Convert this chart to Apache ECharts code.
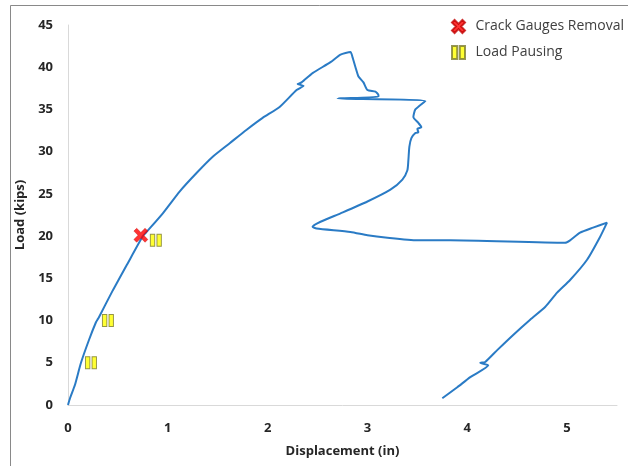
<!DOCTYPE html>
<html>
<head>
<meta charset="utf-8">
<script src="https://cdn.jsdelivr.net/npm/echarts@6/dist/echarts.min.js"></script>
<style>
html,body{margin:0;padding:0;background:#fff;}
#chart{width:628px;height:466px;}
</style>
</head>
<body>
<div id="chart"></div>
<script>
// Load–displacement curve (in, kips)
const displacement = [0, 0.02, 0.07, 0.13, 0.21, 0.28, 0.30, 0.31, 0.45, 0.59, 0.75, 0.78, 0.95, 1.12, 1.29, 1.45, 1.62, 1.79, 1.95, 2.12, 2.29, 2.36, 2.30, 2.34, 2.45, 2.63, 2.73, 2.83, 2.85, 2.88, 2.91, 2.96, 3.00, 3.08, 3.11, 3.11, 2.70, 3.58, 3.48, 3.46, 3.51, 3.54, 3.50, 3.51, 3.48, 3.44, 3.42, 3.41, 3.40, 3.35, 3.23, 3.00, 2.73, 2.53, 2.45, 2.49, 2.83, 3.00, 3.20, 3.50, 3.83, 4.98, 5.03, 5.13, 5.26, 5.40, 5.33, 5.20, 5.03, 4.90, 4.78, 4.63, 4.46, 4.30, 4.18, 4.13, 4.21, 4.03, 3.90, 3.75];
const load = [0, 0.8, 2.4, 5.0, 7.7, 9.8, 10.2, 10.4, 13.6, 16.6, 20.0, 20.4, 22.7, 25.3, 27.5, 29.4, 31.0, 32.6, 34.0, 35.3, 37.3, 37.8, 38.0, 38.2, 39.3, 40.6, 41.5, 41.8, 41.2, 40.0, 38.9, 38.2, 37.3, 37.1, 36.7, 36.5, 36.3, 36.0, 35.0, 34.1, 33.4, 32.9, 32.7, 32.3, 32.2, 31.6, 30.6, 29.0, 27.8, 26.7, 25.5, 24.1, 22.7, 21.7, 21.1, 20.9, 20.5, 20.1, 19.8, 19.5, 19.5, 19.2, 19.5, 20.4, 21.0, 21.6, 19.9, 17.2, 14.8, 13.3, 11.6, 10.1, 8.3, 6.5, 5.1, 5.0, 4.7, 3.3, 2.1, 0.8];

const crackDisp = [0.73];
const crackLoad = [20.1];
const pauseDisp = [0.23, 0.40, 0.88];
const pauseLoad = [5.0, 10.0, 19.5];

const xTicks = [0, 1, 2, 3, 4, 5];
const yTicks = [0, 5, 10, 15, 20, 25, 30, 35, 40, 45];

const curve = displacement.map((d, i) => [d, load[i]]);
const crack = crackDisp.map((d, i) => [d, crackLoad[i]]);
const pause = pauseDisp.map((d, i) => [d, pauseLoad[i]]);

const FONT = '"Open Sans", "Noto Sans", sans-serif';
const crossPath = 'path://M2,0 L5,3 L8,0 L10,2 L7,5 L10,8 L8,10 L5,7 L2,10 L0,8 L3,5 L0,2 Z';
const pausePath = 'path://M0,0 L4,0 L4,10 L0,10 Z M6,0 L10,0 L10,10 L6,10 Z';

const chart = echarts.init(document.getElementById('chart'), null, {renderer: 'canvas'});
chart.setOption({
  animation: false,
  backgroundColor: '#fff',
  graphic: [{
    type: 'rect', shape: {x: 10.5, y: 5.5, width: 700, height: 600},
    style: {fill: 'none', stroke: '#898989', lineWidth: 1}, silent: true, z: -1
  }],
  grid: {left: 68, right: 11, top: 25, bottom: 61, containLabel: false},
  legend: {
    data: ['Crack Gauges Removal', 'Load Pausing'],
    orient: 'vertical', left: 446, top: 14, itemGap: 11,
    itemWidth: 14, itemHeight: 13,
    textStyle: {fontFamily: FONT, fontSize: 14, color: '#404040', padding: [0, 0, 0, 5]}
  },
  xAxis: {
    type: 'value', min: 0, max: 5.5, interval: 1,
    name: 'Displacement (in)', nameLocation: 'middle', nameGap: 40,
    nameTextStyle: {fontFamily: FONT, fontSize: 13, fontWeight: 'bold', color: '#262626'},
    axisLine: {show: true, lineStyle: {color: '#d9d9d9', width: 1}},
    axisTick: {show: false}, splitLine: {show: false},
    axisLabel: {fontFamily: FONT, fontSize: 13, fontWeight: 'bold', color: '#262626', margin: 17, showMaxLabel: false,
      formatter: v => xTicks.includes(v) ? String(v) : ''}
  },
  yAxis: {
    type: 'value', min: 0, max: 45, interval: 5,
    name: 'Load (kips)', nameLocation: 'middle', nameGap: 33, nameRotate: 90,
    nameTextStyle: {fontFamily: FONT, fontSize: 13, fontWeight: 'bold', color: '#262626'},
    axisLine: {show: true, lineStyle: {color: '#d9d9d9', width: 1}},
    axisTick: {show: false}, splitLine: {show: false},
    axisLabel: {fontFamily: FONT, fontSize: 13, fontWeight: 'bold', color: '#262626', margin: 15,
      formatter: v => yTicks.includes(v) ? String(v) : ''}
  },
  series: [
    {
      name: 'curve', type: 'line', data: curve, showSymbol: false, smooth: 0.2,
      lineStyle: {color: '#2a7bc5', width: 2}, z: 2
    },
    {
      name: 'Crack Gauges Removal', type: 'scatter', data: crack,
      symbol: crossPath, symbolSize: 14,
      itemStyle: {color: '#ff0000', borderColor: '#c00000', borderWidth: 0.5}, z: 4
    },
    {
      name: 'Load Pausing', type: 'scatter', data: pause,
      symbol: pausePath, symbolSize: [11, 12],
      itemStyle: {color: '#ffff00', borderColor: '#7a7a30', borderWidth: 1}, z: 3
    }
  ]
});
</script>
</body>
</html>
